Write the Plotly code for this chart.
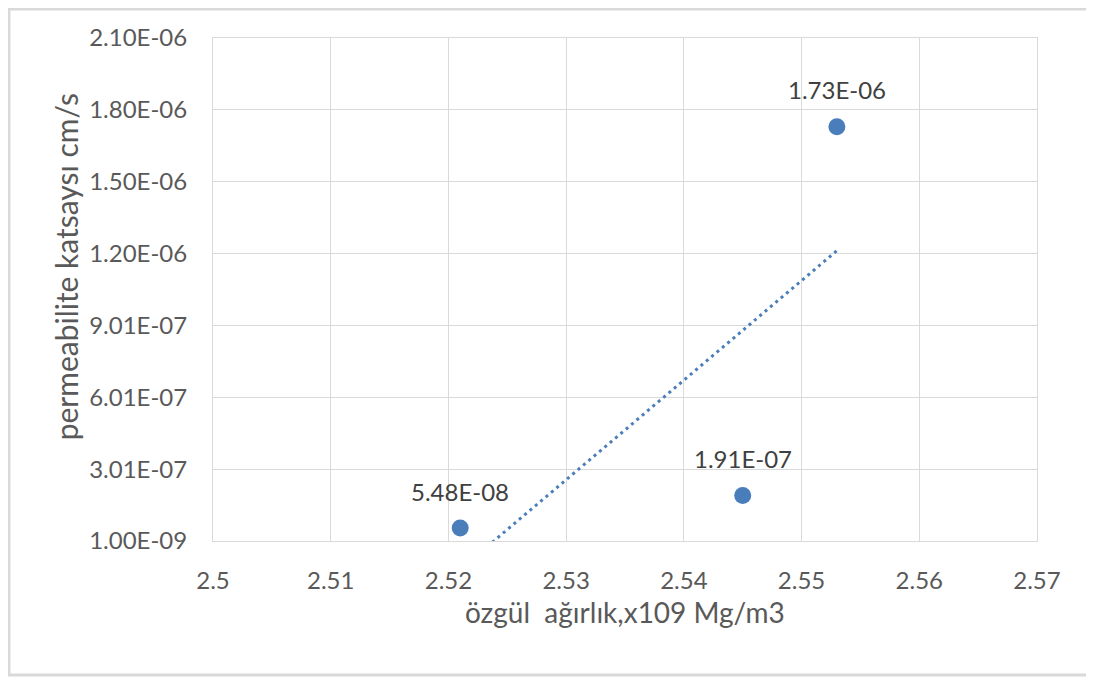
import numpy as np
import plotly.graph_objects as go

# measured values
ozgul_agirlik = [2.521, 2.545, 2.553]
permeabilite = [5.48e-08, 1.91e-07, 1.73e-06]

x_ticks = [2.5, 2.51, 2.52, 2.53, 2.54, 2.55, 2.56, 2.57]
y_ticks = [1.0e-09, 3.01e-07, 6.01e-07, 9.01e-07, 1.201e-06, 1.501e-06, 1.801e-06, 2.101e-06]

BLUE = "#4a7ebb"
GRAY_TXT = "#595959"
GRID = "#d9d9d9"
FONT = "Lato"

# linear trendline (least squares), like excel
slope, icpt = np.polyfit(ozgul_agirlik, permeabilite, 1)
trend_x = [min(ozgul_agirlik), max(ozgul_agirlik)]
trend_y = [slope * v + icpt for v in trend_x]

fig = go.Figure()

fig.add_trace(go.Scatter(
    x=trend_x, y=trend_y, mode="lines",
    line=dict(color=BLUE, width=3, dash="3px,4px"),
    hoverinfo="skip", showlegend=False,
))

fig.add_trace(go.Scatter(
    x=ozgul_agirlik, y=permeabilite, mode="markers",
    marker=dict(color=BLUE, size=17),
    cliponaxis=False, showlegend=False,
))

# data labels above the points
annots = [dict(x=xv, y=yv, xref="x", yref="y", text=f"{yv:.2E}",
               showarrow=False, yshift=37,
               font=dict(family=FONT, size=24, color="#404040"))
          for xv, yv in zip(ozgul_agirlik, permeabilite)]

# axis titles
annots.append(dict(x=0.5, y=-0.141, xref="paper", yref="paper",
                   text="özgül  ağırlık,x109 Mg/m3", showarrow=False,
                   xanchor="center", yanchor="middle",
                   font=dict(family=FONT, size=28, color=GRAY_TXT)))
annots.append(dict(x=-0.1790, y=0.545, xref="paper", yref="paper",
                   text="permeabilite katsaysı cm/s", showarrow=False,
                   textangle=-90, xanchor="center", yanchor="middle",
                   font=dict(family=FONT, size=30, color=GRAY_TXT)))

fig.update_xaxes(
    range=[2.5, 2.57], tickvals=x_ticks,
    ticktext=[f"{v:g}" for v in x_ticks],
    showgrid=True, gridcolor=GRID, gridwidth=1,
    showline=True, linecolor=GRID, linewidth=1, mirror=True,
    zeroline=False, ticks="", ticklabelstandoff=18,
    tickfont=dict(family=FONT, size=24, color=GRAY_TXT),
)

fig.update_yaxes(
    range=[y_ticks[0], y_ticks[-1]], tickvals=y_ticks,
    ticktext=[f"{v:.2E}" for v in y_ticks],
    showgrid=True, gridcolor=GRID, gridwidth=1,
    showline=True, linecolor=GRID, linewidth=1, mirror=True,
    zeroline=False, ticks="", ticklabelstandoff=20,
    tickfont=dict(family=FONT, size=24, color=GRAY_TXT),
)

fig.update_layout(
    width=1086, height=670,
    margin=dict(l=205, r=57, t=30, b=137),
    paper_bgcolor="white", plot_bgcolor="white",
    annotations=annots,
    shapes=[dict(type="rect", xref="paper", yref="paper",
                 x0=-0.2476, x1=1.0667, y0=-0.2664, y1=1.0577,
                 line=dict(color=GRID, width=3), layer="below")],
)

fig.write_html("out.html")
